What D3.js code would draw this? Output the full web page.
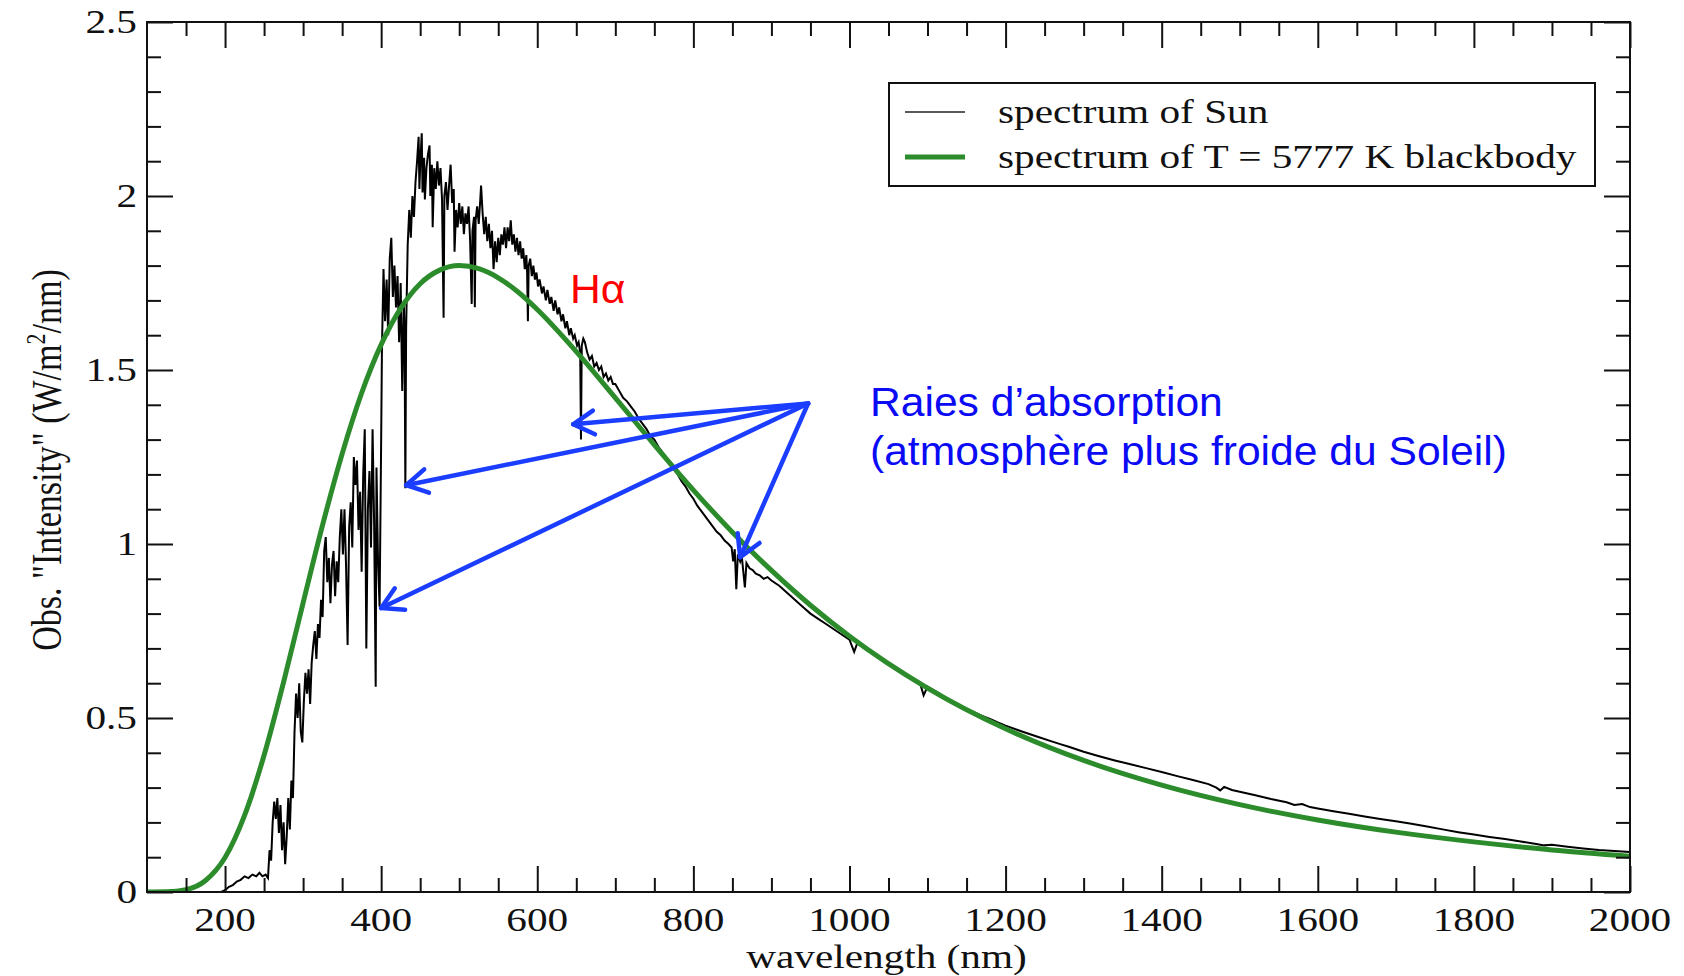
<!DOCTYPE html>
<html>
<head>
<meta charset="utf-8">
<script src="https://cdn.jsdelivr.net/npm/d3@7"></script>
<style>
  body { margin: 0; background: #fff; }
  svg { display: block; }
</style>
</head>
<body>
<svg id="chart" width="1684" height="976"></svg>
<script>
// Observed solar spectrum : [wavelength nm, intensity W/m2/nm]
const sunPoints = [
  [195,0],[200,0.005],[205,0.015],[210,0.02],[215,0.03],[220,0.035],[225,0.045],[230,0.04],[235,0.05],[240,0.045],
  [244,0.055],[248,0.045],[252,0.05],[255,0.04],[257,0.12],[259,0.09],[261,0.2],[263,0.26],[265,0.21],[267,0.27],
  [269,0.17],[271,0.25],[273,0.12],[275,0.2],[277,0.08],[279,0.16],[281,0.27],[283,0.18],[285,0.32],[287,0.27],
  [289,0.46],[291,0.57],[293,0.5],[295,0.6],[297,0.46],[299,0.43],[301,0.55],[303,0.63],[305,0.57],[307,0.64],
  [309,0.54],[311,0.66],[313,0.71],[315,0.75],[317,0.67],[319,0.77],[321,0.73],[323,0.84],[325,0.79],[327,0.98],
  [329,1.02],[331,0.89],[333,0.96],[335,0.83],[337,0.94],[339,0.98],[341,0.85],[343,0.95],[345,0.89],[347,1.02],
  [349,1.1],[351,0.97],[353,1.1],[355,0.94],[357,0.71],[359,1.05],[361,1.12],[363,0.99],[365,1.25],[367,1.17],
  [369,1.24],[371,1.04],[373,1.15],[375,0.92],[377,1.2],[379,1.33],[381,0.7],[383,1.1],[385,1.21],[387,0.99],
  [389,1.33],[391,1.06],[393,0.59],[394,1.22],[396,0.95],[398,0.82],[400,1.3],[401,1.56],[403,1.79],[405,1.64],
  [407,1.76],[409,1.6],[411,1.82],[413,1.88],[415,1.71],[417,1.8],[419,1.68],[421,1.77],[423,1.58],[425,1.75],
  [427,1.44],[429,1.7],[430,1.6],[431,1.16],[432,1.62],[434,1.86],[436,1.96],[438,1.88],[440,2.0],[442,1.94],
  [444,2.04],[446,2.1],[448,2.17],[449,2.02],[450,2.09],[452,2.18],[453,2.01],[455,2.11],[456,1.99],[458,2.08],
  [460,2.12],[462,2.145],[463,2.0],[465,2.09],[466,1.91],[468,2.08],[470,2.02],[472,2.1],[474,2.03],[476,2.08],
  [478,1.99],[480,1.65],[481,2.0],[483,2.04],[485,1.96],[487,2.03],[489,2.09],[491,1.98],[493,2.02],[494,1.84],
  [496,1.96],[498,1.91],[500,1.98],[502,1.92],[504,1.97],[506,1.89],[508,1.95],[510,1.92],[512,1.97],[514,1.87],
  [516,1.69],[517,1.9],[519,1.94],[520,1.68],[521,1.93],[523,1.97],[525,1.92],[527,1.99],[528,2.03],[530,1.95],
  [532,1.89],[534,1.94],[536,1.87],[538,1.92],[540,1.85],[542,1.9],[544,1.79],[546,1.87],[548,1.81],[550,1.88],
  [552,1.83],[554,1.89],[556,1.86],[558,1.91],[560,1.85],[562,1.91],[564,1.87],[566,1.93],[568,1.86],[570,1.89],
  [572,1.84],[574,1.88],[576,1.83],[578,1.87],[580,1.82],[582,1.85],[584,1.79],[586,1.83],[587,1.78],[588,1.64],
  [589,1.8],[591,1.82],[593,1.77],[595,1.8],[597,1.76],[599,1.78],[601,1.74],[603,1.76],[606,1.72],[608,1.74],
  [611,1.7],[613,1.73],[616,1.69],[618,1.71],[621,1.67],[623,1.7],[626,1.66],[628,1.68],[631,1.64],[633,1.66],
  [636,1.62],[638,1.64],[641,1.6],[643,1.62],[646,1.59],[648,1.6],[651,1.57],[653,1.58],[655,1.55],[656,1.3],
  [657,1.57],[659,1.59],[661,1.58],[664,1.55],[667,1.53],[670,1.54],[673,1.51],[676,1.52],[679,1.5],[682,1.51],
  [685,1.48],[688,1.49],[691,1.47],[694,1.48],[697,1.46],[700,1.46],[705,1.44],[710,1.42],[715,1.41],[720,1.395],
  [725,1.38],[730,1.36],[735,1.345],[740,1.33],[745,1.31],[750,1.3],[755,1.28],[760,1.265],[765,1.25],[770,1.235],
  [775,1.215],[780,1.2],[785,1.18],[790,1.165],[795,1.145],[800,1.13],[805,1.11],[810,1.095],[815,1.08],[820,1.065],
  [825,1.05],[830,1.035],[835,1.025],[840,1.01],[845,1.0],[849,0.99],[851,0.95],[853,0.985],[855,0.87],[857,0.97],
  [860,0.95],[862,0.965],[866,0.875],[868,0.945],[872,0.93],[876,0.925],[880,0.915],[885,0.91],[890,0.9],[895,0.905],
  [900,0.895],[910,0.88],[920,0.86],[930,0.84],[940,0.82],[950,0.8],[960,0.785],[970,0.77],[980,0.755],[990,0.74],
  [1000,0.725],[1006,0.69],[1010,0.715],[1020,0.7],[1030,0.685],[1040,0.67],[1050,0.655],[1060,0.64],[1070,0.628],
  [1080,0.615],[1090,0.603],[1095,0.565],[1100,0.59],[1110,0.577],[1120,0.563],[1130,0.55],[1140,0.538],[1150,0.527],
  [1160,0.516],[1170,0.506],[1180,0.497],[1190,0.487],[1200,0.478],[1220,0.462],[1240,0.447],[1260,0.432],[1270,0.425],
  [1280,0.418],[1300,0.403],[1320,0.39],[1340,0.378],[1360,0.367],[1380,0.356],[1400,0.345],[1420,0.333],[1440,0.322],
  [1460,0.31],[1470,0.3],[1475,0.292],[1480,0.302],[1490,0.293],[1500,0.288],[1520,0.278],[1540,0.267],[1560,0.258],
  [1570,0.25],[1580,0.253],[1590,0.244],[1600,0.24],[1620,0.232],[1640,0.225],[1660,0.217],[1680,0.21],[1700,0.203],
  [1720,0.196],[1740,0.188],[1760,0.18],[1780,0.172],[1800,0.165],[1820,0.158],[1840,0.152],[1860,0.145],[1880,0.138],
  [1890,0.134],[1900,0.136],[1920,0.13],[1940,0.125],[1960,0.121],[1980,0.118],[2000,0.115]
];

// Blackbody T = 5777 K
const bbWl = [100,125,150,175,200,225,250,275,300,325,350,375,400,425,450,475,500,525,550,575,600,
              650,700,750,800,850,900,950,1000,1100,1200,1300,1400,1500,1600,1700,1800,1900,2000];
const bbI  = [0,0.0006,0.0066,0.033,0.099,0.22,0.393,0.603,0.831,1.055,1.259,1.434,1.573,1.677,1.748,1.787,1.8,1.791,1.765,1.725,1.674,
              1.553,1.42,1.285,1.155,1.034,0.924,0.824,0.735,0.586,0.469,0.378,0.307,0.251,0.207,0.172,0.144,0.121,0.103];

const xMajor = [200,400,600,800,1000,1200,1400,1600,1800,2000];
const xMinor = [150,250,300,350,450,500,550,650,700,750,850,900,950,1050,1100,1150,1250,1300,1350,
                1450,1500,1550,1650,1700,1750,1850,1900,1950];
const yMajor = [0,0.5,1,1.5,2,2.5];
const yMinor = [0.1,0.2,0.3,0.4,0.6,0.7,0.8,0.9,1.1,1.2,1.3,1.4,1.6,1.7,1.8,1.9,2.1,2.2,2.3,2.4];

const legendLabels = ["spectrum of Sun", "spectrum of T = 5777 K blackbody"];

// absorption lines the arrows point to (wavelength, intensity) and the common start point
const arrowFrom = [947, 1.404];
const arrowWl = [646, 432, 400, 860];
const arrowI  = [1.344, 1.169, 0.816, 0.962];

const annotLines = ["Raies d\u2019absorption", "(atmosph\u00e8re plus froide du Soleil)"];

// ---- layout
const plotL = 147, plotR = 1630, plotT = 22, plotB = 892;
const serif = "'Liberation Serif', 'Times New Roman', serif";
const sans = "'Liberation Sans', Arial, sans-serif";

const svg = d3.select("#chart");

const x = d3.scaleLinear().domain([100, 2000]).range([plotL, plotR]);
const y = d3.scaleLinear().domain([0, 2.5]).range([plotB, plotT]);

svg.append("defs").append("clipPath").attr("id", "plotclip")
  .append("rect").attr("x", plotL).attr("y", plotT).attr("width", plotR - plotL).attr("height", plotB - plotT);

// the picture is stretched horizontally, so the serif text is too
function serifText(g, px, py, str, anchor) {
  return g.append("text")
    .attr("transform", "translate(" + px + "," + py + ") scale(1.25,1)")
    .attr("text-anchor", anchor)
    .style("font-family", serif)
    .style("font-size", "33px")
    .attr("fill", "#111")
    .text(str);
}
// the annotations are a little wider than plain Arial too
function sansText(px, py, str, color) {
  return svg.append("text")
    .attr("transform", "translate(" + px + "," + py + ") scale(1.065,1)")
    .style("font-family", sans).style("font-size", "40px")
    .attr("fill", color)
    .text(str);
}

// Sun spectrum
const plot = svg.append("g").attr("clip-path", "url(#plotclip)");
plot.append("path")
  .datum(sunPoints)
  .attr("fill", "none")
  .attr("stroke", "#000")
  .attr("stroke-width", 2)
  .attr("d", d3.line().x(d => x(d[0])).y(d => y(d[1])));

// blackbody
plot.append("path")
  .datum(bbWl.map((w, i) => [w, bbI[i]]))
  .attr("fill", "none")
  .attr("stroke", "#2c8c2c")
  .attr("stroke-width", 5)
  .attr("d", d3.line().curve(d3.curveMonotoneX).x(d => x(d[0])).y(d => y(d[1])));

// axes: ticks point inwards on all four sides
function ticks(axis, pos, values, size) {
  const g = svg.append("g").attr("transform", pos)
    .call(axis.tickValues(values).tickSizeInner(-size).tickSizeOuter(0).tickFormat(""));
  g.select(".domain").remove();
  g.selectAll("line").attr("stroke", "#111").attr("stroke-width", 2);
  return g;
}
ticks(d3.axisBottom(x), "translate(0," + plotB + ")", xMajor, 26);
ticks(d3.axisBottom(x), "translate(0," + plotB + ")", xMinor, 14);
ticks(d3.axisTop(x), "translate(0," + plotT + ")", xMajor, 26);
ticks(d3.axisTop(x), "translate(0," + plotT + ")", xMinor, 14);
ticks(d3.axisLeft(y), "translate(" + plotL + ",0)", yMajor, 26);
ticks(d3.axisLeft(y), "translate(" + plotL + ",0)", yMinor, 14);
ticks(d3.axisRight(y), "translate(" + plotR + ",0)", yMajor, 26);
ticks(d3.axisRight(y), "translate(" + plotR + ",0)", yMinor, 14);

svg.append("rect")
  .attr("x", plotL).attr("y", plotT).attr("width", plotR - plotL).attr("height", plotB - plotT)
  .attr("fill", "none").attr("stroke", "#111").attr("stroke-width", 2);

// tick labels
const labels = svg.append("g");
xMajor.forEach(v => serifText(labels, x(v), plotB + 39, String(v), "middle"));
yMajor.forEach(v => serifText(labels, plotL - 10, y(v) + 11, String(v), "end"));

// axis titles
serifText(labels, (plotL + plotR) / 2 - 2, 968, "wavelength (nm)", "middle");
const yt = labels.append("text")
  .attr("transform", "translate(61,460) scale(1.25,1) rotate(-90)")
  .attr("text-anchor", "middle")
  .style("font-family", serif)
  .style("font-size", "34px")
  .attr("fill", "#111");
yt.append("tspan").text("Obs. \"Intensity\" (W/m");
yt.append("tspan").attr("dy", -13).style("font-size", "22px").text("2");
yt.append("tspan").attr("dy", 13).text("/nm)");

// legend
const lg = svg.append("g");
lg.append("rect").attr("x", 889).attr("y", 83).attr("width", 706).attr("height", 103)
  .attr("fill", "#fff").attr("stroke", "#111").attr("stroke-width", 2);
const legendColor = ["#222", "#2c8c2c"];
const legendWidth = [1.6, 5];
legendLabels.forEach((t, i) => {
  const ly = 112 + i * 45;
  lg.append("line").attr("x1", 905).attr("x2", 965).attr("y1", ly).attr("y2", ly)
    .attr("stroke", legendColor[i]).attr("stroke-width", legendWidth[i]);
  serifText(lg, 998, ly + 11, t, "start");
});

// Halpha label
sansText(570, 303, "H\u03b1", "#ff0000");

// absorption annotation
annotLines.forEach((t, i) => sansText(870, 416 + i * 49, t, "#0a0af5"));

// arrows
const arrows = svg.append("g")
  .attr("stroke", "#1a3dff").attr("stroke-width", 4.5)
  .attr("fill", "none").attr("stroke-linecap", "round").attr("stroke-linejoin", "round");
const x0 = x(arrowFrom[0]), y0 = y(arrowFrom[1]);
arrowWl.forEach((w, i) => {
  const x1 = x(w), y1 = y(arrowI[i]);
  const a = Math.atan2(y1 - y0, x1 - x0);
  const L = 24, th = 0.52;
  arrows.append("line").attr("x1", x0).attr("y1", y0).attr("x2", x1).attr("y2", y1);
  arrows.append("path").attr("d",
    "M" + (x1 + L * Math.cos(a + Math.PI - th)) + "," + (y1 + L * Math.sin(a + Math.PI - th)) +
    "L" + x1 + "," + y1 +
    "L" + (x1 + L * Math.cos(a + Math.PI + th)) + "," + (y1 + L * Math.sin(a + Math.PI + th)));
});
</script>
</body>
</html>
